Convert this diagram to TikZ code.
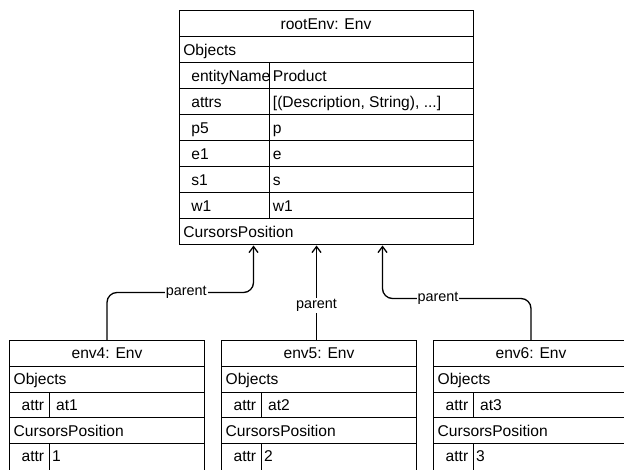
\documentclass[tikz,border=0pt]{standalone}
\usepackage{fontspec}
\setmainfont{Liberation Sans}
\usetikzlibrary{arrows.meta}
\begin{document}
\begin{tikzpicture}[x=1pt,y=-1pt,line width=1.3pt,
  frame/.style={draw, line width=1.3pt, inner sep=0pt, outer sep=0pt, anchor=north west},
  txt/.style={anchor=base west, inner sep=0pt, font=\fontsize{15.6}{18}\selectfont},
  ttl/.style={anchor=base, inner sep=0pt, font=\fontsize{15.6}{18}\selectfont},
  lbl/.style={fill=white, inner sep=1pt, font=\fontsize{14.4}{16}\selectfont},
  conn/.style={line width=1.3pt, rounded corners=10pt, shorten >=1pt,
    -{Straight Barb[length=6pt,width=9pt,line width=1.3pt]}}]
\useasboundingbox (0,0) rectangle (624,470);

% ---- rootEnv ----
\node[frame, minimum width=294pt, minimum height=234pt] (root) at (179.5,10.5) {};
\foreach \i in {1,...,8}
  \draw (179.5,10.5+26*\i) -- (473.5,10.5+26*\i);
\draw (269.5,62.5) -- (269.5,218.5);

\node[ttl] (rt) at (326,29.2) {rootEnv: Env};
\node[txt] (robj) at (182.7,55.2) {Objects};
\node[txt] (rk1) at (190.7,81.2) {entityName};
\node[txt] (rv1) at (272.3,81.2) {Product};
\node[txt] (rk2) at (190.7,107.2) {attrs};
\node[txt] (rv2) at (272.3,107.2) {[(Description, String), ...]};
\node[txt] (rk3) at (190.7,133.2) {p5};
\node[txt] (rv3) at (272.3,133.2) {p};
\node[txt] (rk4) at (190.7,159.2) {e1};
\node[txt] (rv4) at (272.3,159.2) {e};
\node[txt] (rk5) at (190.7,185.2) {s1};
\node[txt] (rv5) at (272.3,185.2) {s};
\node[txt] (rk6) at (190.7,211.2) {w1};
\node[txt] (rv6) at (272.3,211.2) {w1};
\node[txt] (rcur) at (182.7,237.2) {CursorsPosition};

% ---- child environments ----
\foreach \n/\L/\D/\a/\v in {4/9.5/49.5/at1/1, 5/221.5/261.5/at2/2, 6/433.5/473.5/at3/3} {
  \node[frame, minimum width=195pt, minimum height=150pt] (e\n) at (\L,340.5) {};
  \foreach \y in {366.5,392.5,417.5,443.5}
    \draw (\L,\y) -- (\L+195,\y);
  \draw (\D,392.5) -- (\D,417.5);
  \draw (\D,443.5) -- (\D,480);
  \node[ttl] (t\n) at (\L+97.5,359) {env\n: Env};
  \node[txt] (o\n) at (\L+3.5,384.7) {Objects};
  \node[txt] (ak\n) at (\L+11.5,410.4) {attr};
  \node[txt] (av\n) at (\L+46,410.4) {\a};
  \node[txt] (c\n) at (\L+3.5,436.1) {CursorsPosition};
  \node[txt] (ck\n) at (\L+11.5,461.8) {attr};
  \node[txt] (cv\n) at (\L+42,461.8) {\v};
}

% ---- parent links ----
\coordinate (j4) at (253.5,292.5);
\coordinate (j6) at (382.5,298.5);
\draw[conn] (e4.north) |- (j4) -- (j4 |- root.south);
\draw[conn] ([xshift=-2.5pt]e5.north) -- ([xshift=-2.5pt]e5.north |- root.south);
\draw[conn] (e6.north) |- (j6) -- (j6 |- root.south);

\node[lbl] (p4) at (186.3,292.5) {parent};
\node[lbl] (p5) at (316.5,305.5) {parent};
\node[lbl] (p6) at (438,298.5) {parent};
\end{tikzpicture}
\end{document}
